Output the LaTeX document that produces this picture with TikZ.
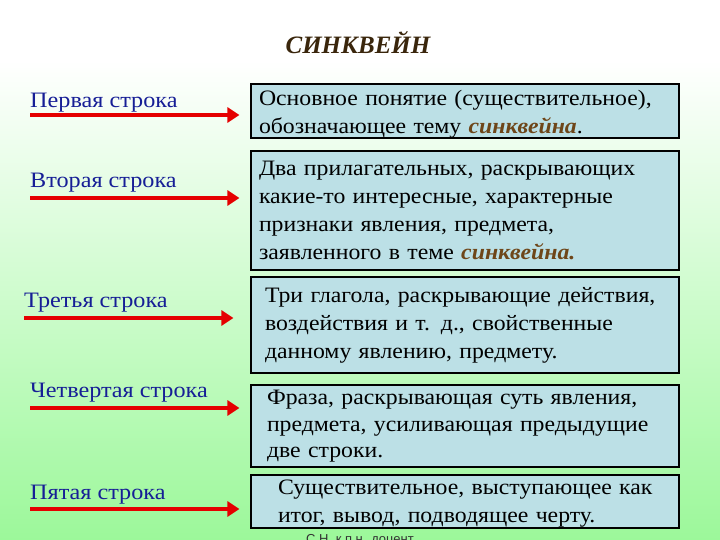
\documentclass[tikz,border=0pt]{standalone}
\usepackage{fontspec}
\setmainfont{Liberation Serif}
\newfontfamily\boxfont[FakeStretch=1.08]{Liberation Serif}
\newfontfamily\labelfont[FakeStretch=1.1]{Liberation Serif}
\newfontfamily\notefont{Liberation Sans}
\usetikzlibrary{positioning,arrows.meta}

\definecolor{bgGreen}{RGB}{156,248,154}
\definecolor{boxFill}{RGB}{188,224,230}
\definecolor{labelBlue}{RGB}{22,30,150}
\definecolor{titleBrown}{RGB}{58,38,12}
\definecolor{wordBrown}{RGB}{110,70,25}

\tikzset{
  linelabel/.style={
    anchor=west,
    text=labelBlue,
    font=\labelfont\fontsize{22}{26}\selectfont,
    inner sep=0pt},
  descbox/.style={
    rectangle,
    draw=black, line width=1.2pt,
    fill=boxFill,
    minimum width=428pt,
    text width=412pt,
    align=left,
    inner sep=0pt,
    font=\boxfont\fontsize{22}{28}\selectfont},
  redarrow/.style={
    draw=red!90!black, line width=4.5pt,
    -{Triangle[length=12pt,width=15pt]},
    shorten >=11pt},
}
\newcommand{\sinkword}[1]{\textcolor{wordBrown}{\textbf{\textit{#1}}}}
\newcommand{\ind}[1]{\hspace*{#1}}

\begin{document}
\begin{tikzpicture}[x=1pt,y=1pt]
\useasboundingbox (0,0) rectangle (720,540);

%Background
\fill[white] (0,480) rectangle (720,540);
\shade[top color=white, bottom color=bgGreen] (0,0) rectangle (720,480);

%Title
\node[text=titleBrown, font=\fontsize{25}{30}\selectfont\bfseries\itshape] (title) at (358,497) {СИНКВЕЙН};

%Boxes
\node[descbox, text height=22pt, text depth=32pt] (box1) at (465,429)
  {Основное понятие (существительное),\\ обозначающее тему \sinkword{синквейна}.};
\node[descbox, text height=25pt, text depth=94pt] (box2) at (465,329.5)
  {Два прилагательных, раскрывающих\\ какие-то интересные, характерные\\ признаки явления, предмета,\\ заявленного в теме \sinkword{синквейна.}};
\node[descbox, text height=26pt, text depth=70pt] (box3) at (465,215)
  {\ind{6pt}Три глагола, раскрывающие действия,\\ \ind{6pt}воздействия и т. д., свойственные\\ \ind{6pt}данному явлению, предмету.};
\node[descbox, text height=20pt, text depth=62pt,
      font=\boxfont\fontsize{22}{26.5}\selectfont] (box4) at (465,114)
  {\ind{8pt}Фраза, раскрывающая суть явления,\\ \ind{8pt}предмета, усиливающая предыдущие\\ \ind{8pt}две строки.};
\node[descbox, text height=20pt, text depth=33pt] (box5) at (465,38.5)
  {\ind{19pt}Существительное, выступающее как\\ \ind{19pt}итог, вывод, подводящее черту.};

%Labels
\node[linelabel] (first)  at (30,437) {Первая строка};
\node[linelabel] (second) at (30,357) {Вторая строка};
\node[linelabel] (third)  at (24,237) {Третья строка};
\node[linelabel] (fourth) at (30,147) {Четвертая строка};
\node[linelabel] (fifth)  at (30,45)  {Пятая строка};

%Arrow starts
\coordinate (a1) at (30,425);
\coordinate (a2) at (30,342);
\coordinate (a3) at (24,222);
\coordinate (a4) at (30,132);
\coordinate (a5) at (30,31);

%Lines
\draw[redarrow] (a1) -- (a1 -| box1.west);
\draw[redarrow] (a2) -- (a2 -| box2.west);
\draw[redarrow, shorten >=17pt] (a3) -- (a3 -| box3.west);
\draw[redarrow] (a4) -- (a4 -| box4.west);
\draw[redarrow] (a5) -- (a5 -| box5.west);

%Note
\node[anchor=base, text=black!80, font=\notefont\fontsize{13}{15}\selectfont] (note) at (360,-3.3) {С.Н. к.п.н. доцент};

\end{tikzpicture}
\end{document}
